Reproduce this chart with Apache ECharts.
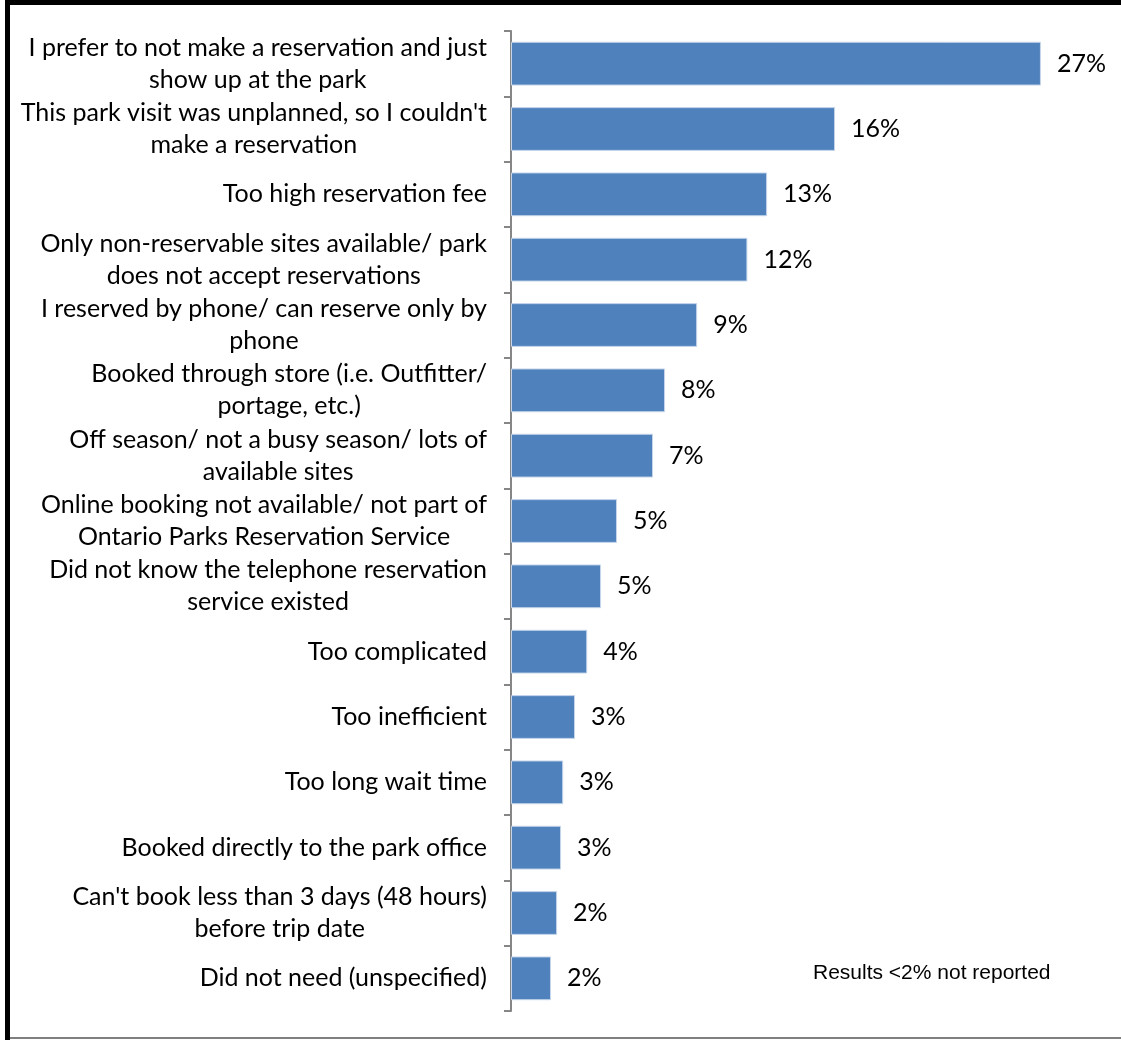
<!DOCTYPE html>
<html>
<head>
<meta charset="utf-8">
<script src="https://cdn.jsdelivr.net/npm/echarts@6/dist/echarts.min.js"></script>
<style>
html,body{margin:0;padding:0;background:#fff;}
#chart{width:1121px;height:1040px;}
</style>
</head>
<body>
<div id="chart"></div>
<script>
const categories = [
  "I prefer to not make a reservation and just\nshow up at the park",
  "This park visit was unplanned, so I couldn't\nmake a reservation",
  "Too high reservation fee",
  "Only non-reservable sites available/ park\ndoes not accept reservations",
  "I reserved by phone/ can reserve only by\nphone",
  "Booked through store (i.e. Outfitter/\nportage, etc.)",
  "Off season/ not a busy season/ lots of\navailable sites",
  "Online booking not available/ not part of\nOntario Parks Reservation Service",
  "Did not know the telephone reservation\nservice existed",
  "Too complicated",
  "Too inefficient",
  "Too long wait time",
  "Booked directly to the park office",
  "Can't book less than 3 days (48 hours)\nbefore trip date",
  "Did not need (unspecified)"
];
const values = [26.9, 16.45, 13.0, 12.0, 9.45, 7.82, 7.21, 5.38, 4.57, 3.87, 3.25, 2.65, 2.54, 2.34, 2.03];
const footnote = "Results <2% not reported";

const LABEL_FONT = "Lato";
const LABEL_SIZE = 25;

const chart = echarts.init(document.getElementById('chart'), null, {renderer: 'canvas'});
chart.setOption({
  animation: false,
  backgroundColor: '#ffffff',
  grid: {left: 511, top: 31, width: 591, height: 980, containLabel: false},
  xAxis: {
    type: 'value', min: 0, max: 30, show: false
  },
  yAxis: {
    type: 'category',
    data: categories,
    inverse: true,
    axisLine: {show: true, lineStyle: {color: '#868686', width: 2}},
    axisTick: {show: true, length: 7, lineStyle: {color: '#868686', width: 2}},
    axisLabel: {
      margin: 24,
      color: '#000',
      fontFamily: LABEL_FONT,
      fontSize: LABEL_SIZE,
      lineHeight: 32,
      formatter: function (v) {
        return v.split('\n').map(l => '{c|' + l + '}').join('\n');
      },
      rich: {
        c: {align: 'center', fontFamily: LABEL_FONT, fontSize: LABEL_SIZE, lineHeight: 32, color: '#000'}
      }
    },
    splitLine: {show: false}
  },
  series: [{
    type: 'bar',
    data: values,
    barCategoryGap: '33%',
    itemStyle: {color: '#4F81BD', borderColor: '#c6d6ea', borderWidth: 1},
    label: {
      show: true,
      position: 'right',
      distance: 16,
      color: '#000',
      fontFamily: LABEL_FONT,
      fontSize: LABEL_SIZE,
      formatter: p => Math.round(p.value) + '%'
    }
  }],
  graphic: [
    {type: 'rect', shape: {x: 5, y: 0, width: 1116, height: 5}, style: {fill: '#000'}},
    {type: 'rect', shape: {x: 5, y: 0, width: 5, height: 1040}, style: {fill: '#000'}},
    {type: 'rect', shape: {x: 10, y: 1037, width: 1111, height: 2}, style: {fill: '#7f7f7f'}},
    {type: 'text', left: 813, top: 963, style: {text: footnote, fontFamily: 'Liberation Sans', fontSize: 21, fill: '#000'}}
  ]
});
</script>
</body>
</html>
